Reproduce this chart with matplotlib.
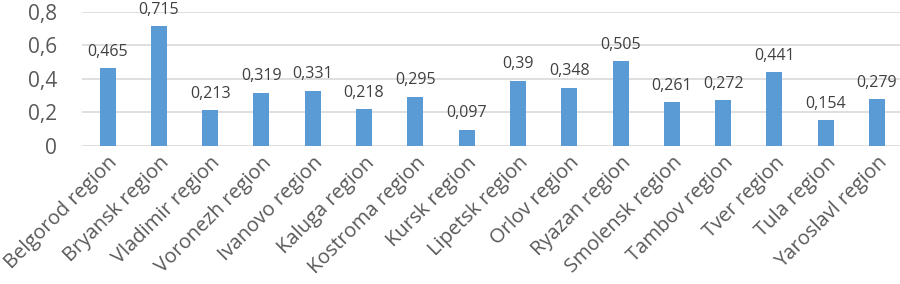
import matplotlib.pyplot as plt
import numpy as np

regions = ['Belgorod region', 'Bryansk region', 'Vladimir region', 'Voronezh region',
           'Ivanovo region', 'Kaluga region', 'Kostroma region', 'Kursk region',
           'Lipetsk region', 'Orlov region', 'Ryazan region', 'Smolensk region',
           'Tambov region', 'Tver region', 'Tula region', 'Yaroslavl region']
values = [0.465, 0.715, 0.213, 0.319, 0.331, 0.218, 0.295, 0.097,
          0.39, 0.348, 0.505, 0.261, 0.272, 0.441, 0.154, 0.279]
yticks = [0, 0.2, 0.4, 0.6, 0.8]

plt.rcParams['font.family'] = ['Open Sans', 'DejaVu Sans']

fig = plt.figure(figsize=(9, 2.84), dpi=100)
ax = fig.add_axes([0.091, 0.486, 0.912, 0.472])

x = np.arange(len(regions))
ax.bar(x, values, width=0.31, color='#5B9BD5', zorder=3)

for xi, v in zip(x, values):
    label = f'{v:g}'.replace('.', ',')
    ax.annotate(label, (xi, v), xytext=(0, 6), textcoords='offset points',
                ha='center', va='bottom', fontsize=11.5, color='#404040',
                annotation_clip=False)

ax.set_ylim(0, 0.8)
ax.set_xlim(-0.5, len(regions) - 0.5)
ax.set_yticks(yticks)
ax.set_yticklabels([f'{t:g}'.replace('.', ',') for t in yticks],
                   fontsize=15, color='#595959')
ax.yaxis.grid(True, color='#D9D9D9', linewidth=1.2, zorder=0)
ax.set_xticks(x)
ax.set_xticklabels(regions, rotation=45, ha='right', rotation_mode='anchor',
                   fontsize=14.5, color='#595959')
ax.tick_params(axis='both', length=0)
ax.tick_params(axis='x', pad=5)
ax.tick_params(axis='y', pad=18)
for s in ax.spines.values():
    s.set_visible(False)

fig.savefig('out.png', dpi=100)
